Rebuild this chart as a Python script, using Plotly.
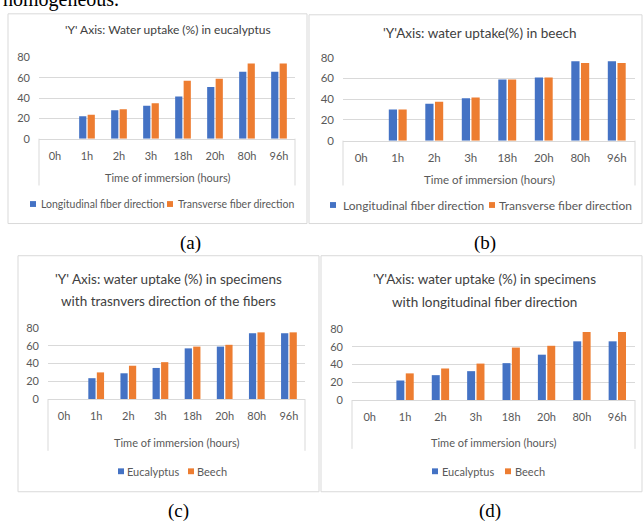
import plotly.graph_objects as go

# Immersion times (category axis)
times = ["0h", "1h", "2h", "3h", "18h", "20h", "80h", "96h"]
y_ticks = [0, 20, 40, 60, 80]

# Water uptake (%) by species and fiber direction
euc_longitudinal = [0, 22, 28, 32.5, 41.5, 51, 66, 66]
euc_transverse = [0, 23.5, 29, 35, 57, 59, 74, 74]
beech_longitudinal = [0, 30, 35.5, 41, 59, 61, 76.5, 76.5]
beech_transverse = [0, 30, 37.5, 41.5, 59, 61, 75, 75]

BLUE = "#4472C4"
ORANGE = "#ED7D31"
TEXT = "#595959"
TITLE = "#404040"
GRID = "#D9D9D9"
FONT = "Lato"

W, H = 644, 528


def px(x):
    return x / W


def py(y):
    return 1 - y / H


panels = [
    dict(
        series=[("Longitudinal fiber direction", euc_longitudinal, BLUE),
                ("Transverse fiber direction", euc_transverse, ORANGE)],
        title=["'Y' Axis: Water uptake (%) in eucalyptus"], title_x=168, title_y=[23], title_size=12,
        border=(8, 7, 307, 222), plot=(39, 51.7, 295, 135),
        axis_title_y=175, box_bottom=183, legend_y=202, legend_size=10.5,
        legend_pos=[(30, 39), (167, 176)], tick_size=11,
        caption="(a)", caption_xy=(190, 242),
    ),
    dict(
        series=[("Longitudinal fiber direction", beech_longitudinal, BLUE),
                ("Transverse fiber direction", beech_transverse, ORANGE)],
        title=["'Y'Axis: water uptake(%) in beech"], title_x=480, title_y=[27], title_size=13.5,
        border=(309, 8, 642, 222), plot=(343, 52, 635, 137),
        axis_title_y=177, box_bottom=183, legend_y=203, legend_size=12,
        legend_pos=[(330, 341), (489, 497)], tick_size=11.5,
        caption="(b)", caption_xy=(485, 242),
    ),
    dict(
        series=[("Eucalyptus", euc_transverse, BLUE),
                ("Beech", beech_transverse, ORANGE)],
        title=["'Y' Axis: water uptake (%) in specimens",
               "with trasnvers direction of the fibers"], title_x=168, title_y=[279, 301], title_size=13.5,
        border=(18, 255, 319, 497), plot=(48, 329, 305, 402),
        axis_title_y=447, box_bottom=455, legend_y=476, legend_size=11,
        legend_pos=[(118, 125), (188, 195)], tick_size=11,
        caption="(c)", caption_xy=(178, 517),
    ),
    dict(
        series=[("Eucalyptus", euc_longitudinal, BLUE),
                ("Beech", beech_longitudinal, ORANGE)],
        title=["'Y'Axis: water uptake (%) in specimens",
               "with longitudinal fiber direction"], title_x=484, title_y=[279, 302], title_size=13.5,
        border=(321, 255, 642, 497), plot=(352, 330, 635, 403),
        axis_title_y=447, box_bottom=453, legend_y=476, legend_size=11,
        legend_pos=[(432, 440), (505, 513)], tick_size=11,
        caption="(d)", caption_xy=(490, 517),
    ),
]

fig = go.Figure()
shapes = []
annotations = []
layout_axes = {}

for i, p in enumerate(panels, start=1):
    xa = "x" if i == 1 else f"x{i}"
    ya = "y" if i == 1 else f"y{i}"
    x0, y0, x1, y1 = p["plot"]

    for label, values, color in p["series"]:
        fig.add_trace(go.Bar(
            x=times, y=values, name=label, marker=dict(color=color, line=dict(width=0)),
            xaxis=xa, yaxis=ya, showlegend=False,
        ))

    layout_axes[f"xaxis{'' if i == 1 else i}"] = dict(
        domain=[px(x0), px(x1)], anchor=ya, type="category",
        showgrid=False, zeroline=False, showline=True, linecolor=GRID, linewidth=1,
        ticks="", ticklabelstandoff=7,
        tickfont=dict(family=FONT, size=p["tick_size"], color=TEXT),
        fixedrange=True,
    )
    layout_axes[f"yaxis{'' if i == 1 else i}"] = dict(
        domain=[py(y1), py(y0)], anchor=xa, range=[0, 80],
        tickvals=y_ticks, showgrid=True, gridcolor=GRID, gridwidth=1,
        zeroline=False, showline=False, ticks="", ticklabelstandoff=8,
        tickfont=dict(family=FONT, size=p["tick_size"], color=TEXT),
        fixedrange=True,
    )

    # chart frame
    bx0, by0, bx1, by1 = p["border"]
    shapes.append(dict(type="rect", xref="paper", yref="paper",
                       x0=px(bx0), x1=px(bx1), y0=py(by1), y1=py(by0),
                       line=dict(color=GRID, width=1), fillcolor="rgba(0,0,0,0)", layer="below"))
    # category axis box sides
    for xv in (x0, x1):
        shapes.append(dict(type="line", xref="paper", yref="paper",
                           x0=px(xv), x1=px(xv), y0=py(y1), y1=py(p["box_bottom"]),
                           line=dict(color=GRID, width=1)))

    # chart title
    for line, ty in zip(p["title"], p["title_y"]):
        annotations.append(dict(text=line, xref="paper", yref="paper", x=px(p["title_x"]), y=py(ty),
                                xanchor="center", yanchor="middle", showarrow=False,
                                font=dict(family=FONT, size=p["title_size"], color=TITLE)))
    # axis title
    cx = (x0 + x1) / 2
    annotations.append(dict(text="Time of immersion (hours)", xref="paper", yref="paper",
                            x=px(cx), y=py(p["axis_title_y"]), xanchor="center", yanchor="middle",
                            showarrow=False, font=dict(family=FONT, size=p["tick_size"], color=TEXT)))
    # legend
    sq = 6
    for (label, _, color), (sx, tx) in zip(p["series"], p["legend_pos"]):
        ly = p["legend_y"]
        shapes.append(dict(type="rect", xref="paper", yref="paper",
                           x0=px(sx), x1=px(sx + sq), y0=py(ly + sq / 2), y1=py(ly - sq / 2),
                           line=dict(width=0), fillcolor=color))
        annotations.append(dict(text=label, xref="paper", yref="paper", x=px(tx), y=py(ly),
                                xanchor="left", yanchor="middle", showarrow=False,
                                font=dict(family=FONT, size=p["legend_size"], color=TEXT)))
    # caption
    cpx, cpy = p["caption_xy"]
    annotations.append(dict(text=p["caption"], xref="paper", yref="paper", x=px(cpx), y=py(cpy),
                            xanchor="center", yanchor="middle", showarrow=False,
                            font=dict(family="Liberation Serif", size=19, color="#000000")))

# end of the preceding paragraph, running off the top edge
annotations.append(dict(text="homogeneous.", xref="paper", yref="paper", x=px(1), y=py(6),
                        xanchor="left", yanchor="bottom", showarrow=False,
                        font=dict(family="Liberation Serif", size=20, color="#000000")))

fig.update_layout(
    width=W, height=H, margin=dict(l=0, r=0, t=0, b=0),
    paper_bgcolor="white", plot_bgcolor="white",
    barmode="group", bargap=0.47, bargroupgap=0.15,
    showlegend=False, shapes=shapes, annotations=annotations,
    **layout_axes,
)

fig.write_html("out.html")
